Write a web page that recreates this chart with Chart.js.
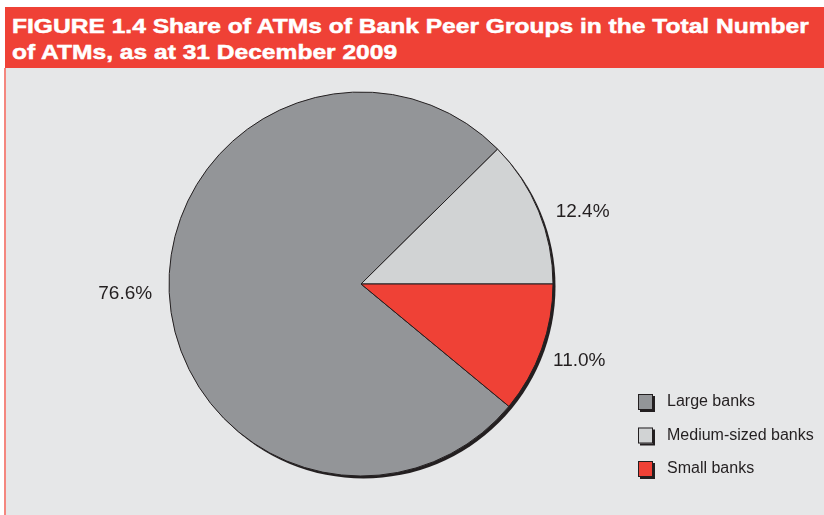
<!DOCTYPE html>
<html>
<head>
<meta charset="utf-8">
<script src="https://cdn.jsdelivr.net/npm/chart.js@4/dist/chart.umd.min.js"></script>
<style>
  html, body { margin: 0; padding: 0; background: #fff; }
  body { width: 824px; height: 515px; position: relative; overflow: hidden; font-family: "Liberation Sans", Arial, sans-serif; }
  .titlebar {
    position: absolute; left: 5px; top: 7px; width: 819px; height: 61px;
    background: #ef4136; overflow: hidden;
  }
  .titlebar span {
    position: absolute; left: 7px; top: 6px; white-space: nowrap;
    color: #fff; font-weight: bold; font-size: 21px; line-height: 26px;
    -webkit-text-stroke: 0.5px #fff;
    transform: scaleX(1.17); transform-origin: 0 0;
  }
  .panel {
    position: absolute; left: 4px; top: 68px; width: 820px; height: 447px;
    background: #e6e7e8; border-left: 2px solid #f4877f; box-sizing: border-box;
  }
  #chartAtm { display: block; }
</style>
</head>
<body>
<div class="titlebar"><span>FIGURE 1.4 Share of ATMs of Bank Peer Groups in the Total Number<br>of ATMs, as at 31 December 2009</span></div>
<div class="panel"><canvas id="chartAtm" width="818" height="447"></canvas></div>

<script>
// ================= DADOS =================
const grupos = ['Large banks', 'Medium-sized banks', 'Small banks'];
const percentuais = [76.6, 12.4, 11.0];
const cores = ['#939598', '#d1d3d4', '#ef4136'];

const corTexto = '#231f20';

// small banks start at 3 o'clock and run clockwise up to the large banks
const rotacao = 90 + percentuais[2] * 3.6;

// ================= SOMBRA DA PIZZA =================
const sombraPizza = {
  id: 'sombraPizza',
  beforeDatasetsDraw(chart) {
    const arc = chart.getDatasetMeta(0).data[0];
    if (!arc) return;
    const ctx = chart.ctx;
    ctx.save();
    ctx.fillStyle = corTexto;
    ctx.beginPath();
    ctx.arc(arc.x + 2.5, arc.y + 2.5, arc.outerRadius, 0, Math.PI * 2);
    ctx.fill();
    ctx.restore();
  }
};

// ================= RÓTULOS % =================
const ajusteRotulo = [[-4, 0], [7, 16], [0, -2]];

const rotulos = {
  id: 'rotulos',
  afterDatasetsDraw(chart) {
    const ctx = chart.ctx;
    const meta = chart.getDatasetMeta(0);
    ctx.save();
    ctx.font = '19px "Liberation Sans", Arial, sans-serif';
    ctx.fillStyle = corTexto;
    ctx.textAlign = 'center';
    ctx.textBaseline = 'middle';
    meta.data.forEach((arc, i) => {
      const meio = (arc.startAngle + arc.endAngle) / 2;
      const r = arc.outerRadius + 40;
      const x = arc.x + Math.cos(meio) * r + ajusteRotulo[i][0];
      const y = arc.y + Math.sin(meio) * r + ajusteRotulo[i][1];
      ctx.fillText(percentuais[i].toFixed(1) + '%', x, y);
    });
    ctx.restore();
  }
};

// ================= LEGENDA =================
const legenda = {
  id: 'legenda',
  afterDraw(chart) {
    const ctx = chart.ctx;
    const x0 = 632, y0 = 334, passo = 33.5;
    ctx.save();
    ctx.font = '16px "Liberation Sans", Arial, sans-serif';
    ctx.textBaseline = 'middle';
    grupos.forEach((nome, i) => {
      const y = y0 + i * passo;
      ctx.fillStyle = corTexto;
      ctx.fillRect(x0 + 2, y - 6, 15, 16);
      ctx.fillStyle = cores[i];
      ctx.fillRect(x0, y - 8, 15, 16);
      ctx.strokeStyle = corTexto;
      ctx.lineWidth = 1;
      ctx.strokeRect(x0 + 0.5, y - 7.5, 14, 15);
      ctx.fillStyle = corTexto;
      ctx.fillText(nome, x0 + 29, y);
    });
    ctx.restore();
  }
};

// ================= GRÁFICO =================
const ctx = document.getElementById('chartAtm').getContext('2d');
new Chart(ctx, {
  type: 'pie',
  data: {
    labels: grupos,
    datasets: [{
      data: percentuais,
      backgroundColor: cores,
      borderColor: corTexto,
      borderWidth: 1
    }]
  },
  options: {
    responsive: false,
    animation: false,
    rotation: rotacao,
    radius: 192,
    layout: { padding: { left: 0, right: 108, top: 0, bottom: 15 } },
    plugins: {
      legend: { display: false },
      tooltip: { enabled: false }
    }
  },
  plugins: [sombraPizza, rotulos, legenda]
});
</script>
</body>
</html>
